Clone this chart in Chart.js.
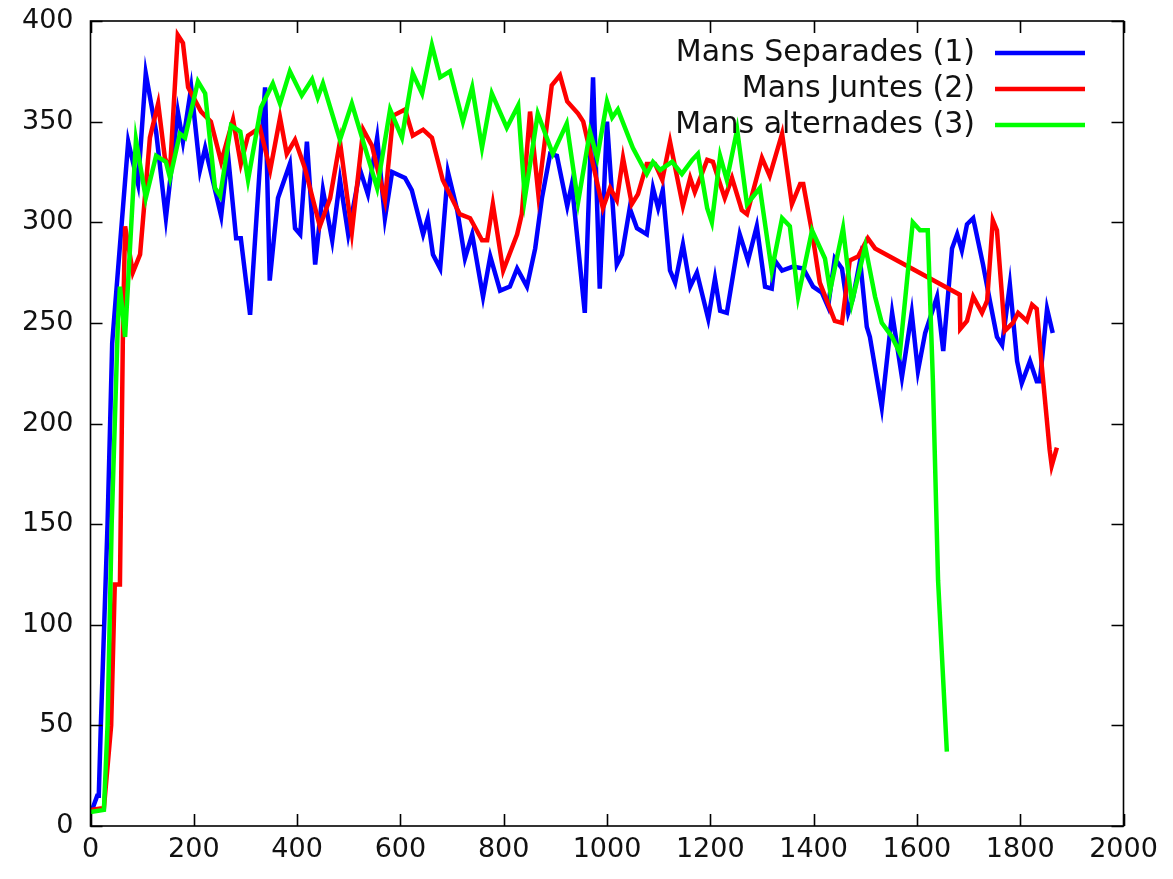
<!DOCTYPE html>
<html>
<head>
<meta charset="utf-8">
<script src="https://cdn.jsdelivr.net/npm/chart.js@4.4.1/dist/chart.umd.min.js"></script>
<style>
html, body { margin: 0; padding: 0; background: #fff; }
#wrap { width: 1173px; height: 879px; position: relative; }
</style>
</head>
<body>
<div id="wrap"><canvas id="myChart"></canvas></div>
<script>
const seriesNames = ['Mans Separades (1)', 'Mans Juntes (2)', 'Mans alternades (3)'];
const seriesColors = ['#0000ff', '#ff0000', '#00ff00'];
const xTicks = [0, 200, 400, 600, 800, 1000, 1200, 1400, 1600, 1800, 2000];
const yTicks = [0, 50, 100, 150, 200, 250, 300, 350, 400];

// Mans Separades (1)
const separadesT = [3, 13, 16, 20, 33, 42, 73, 92, 107, 127, 146, 169, 179, 195, 212, 222, 253, 266, 282, 291,
  309, 338, 347, 363, 386, 396, 406, 419, 435, 450, 468, 483, 499, 522, 537, 555, 570, 584, 609, 622,
  644, 653, 663, 677, 692, 710, 725, 739, 760, 774, 793, 812, 826, 845, 861, 874, 890, 903, 923, 932,
  957, 973, 986, 1000, 1019, 1029, 1044, 1058, 1077, 1089, 1099, 1108, 1122, 1132, 1147, 1161, 1174, 1196, 1209, 1219,
  1232, 1257, 1273, 1290, 1306, 1319, 1325, 1339, 1360, 1380, 1399, 1416, 1428, 1441, 1455, 1467, 1476, 1490, 1503, 1509,
  1532, 1552, 1571, 1590, 1602, 1616, 1639, 1651, 1668, 1678, 1687, 1697, 1709, 1728, 1742, 1755, 1765, 1780, 1794, 1803,
  1819, 1832, 1838, 1852, 1863];
const separadesV = [8, 15, 15, 50, 150, 240, 340, 319, 374, 345, 302, 355, 340, 367, 326, 337, 303, 334, 292, 292,
  254, 367, 271, 312, 329, 297, 294, 340, 279, 316, 291, 321, 294, 326, 314, 342, 302, 325, 322, 316,
  294, 302, 284, 277, 325, 306, 282, 294, 263, 283, 266, 268, 277, 268, 287, 312, 334, 333, 308, 319,
  255, 372, 267, 350, 279, 284, 307, 297, 294, 317, 307, 316, 276, 270, 289, 268, 275, 252, 272, 256,
  255, 294, 281, 298, 268, 267, 281, 276, 278, 277, 268, 265, 258, 282, 277, 255, 262, 281, 248, 243,
  208, 255, 223, 255, 226, 245, 263, 236, 287, 294, 286, 299, 302, 279, 260, 243, 239, 269, 231, 220,
  231, 221, 221, 257, 245];

// Mans Juntes (2)
const juntesT = [1, 26, 40, 47, 57, 63, 67, 82, 96, 115, 131, 144, 154, 169, 179, 189, 214, 233, 253, 276,
  291, 305, 328, 348, 367, 380, 396, 415, 444, 464, 483, 506, 528, 545, 570, 586, 609, 624, 644, 661,
  682, 715, 735, 758, 768, 779, 799, 826, 835, 851, 867, 893, 909, 923, 944, 954, 971, 992, 1006, 1019,
  1031, 1048, 1060, 1077, 1093, 1107, 1122, 1147, 1161, 1170, 1194, 1205, 1228, 1242, 1261, 1271, 1300, 1315, 1339, 1358,
  1374, 1380, 1397, 1412, 1441, 1455, 1470, 1486, 1505, 1519, 1683, 1684, 1697, 1709, 1726, 1736, 1747, 1755, 1770, 1786,
  1796, 1813, 1823, 1832, 1842, 1857, 1861, 1871];
const juntesV = [8, 9, 50, 120, 120, 250, 298, 275, 284, 342, 359, 332, 326, 393, 389, 367, 355, 350, 330, 351,
  329, 343, 347, 326, 352, 334, 341, 327, 298, 312, 340, 295, 346, 338, 311, 353, 356, 343, 346, 342,
  321, 304, 302, 291, 291, 309, 276, 294, 304, 355, 314, 368, 373, 360, 354, 350, 331, 307, 317, 311,
  332, 309, 314, 329, 329, 321, 340, 308, 322, 315, 331, 330, 312, 322, 306, 304, 332, 323, 344, 309,
  319, 319, 295, 270, 251, 250, 281, 283, 292, 287, 264, 247, 251, 263, 255, 261, 301, 296, 246, 250,
  255, 251, 259, 257, 228, 187, 179, 188];

// Mans alternades (3)
const alternadesT = [0, 26, 33, 41, 53, 57, 67, 88, 107, 127, 146, 154, 173, 183, 208, 222, 241, 251, 272, 290,
  305, 330, 353, 367, 386, 409, 429, 440, 450, 483, 506, 555, 580, 603, 624, 642, 661, 677, 696, 721,
  739, 758, 777, 806, 828, 841, 866, 895, 922, 944, 967, 981, 1000, 1010, 1021, 1050, 1077, 1089, 1103, 1126,
  1145, 1165, 1176, 1194, 1203, 1219, 1232, 1252, 1271, 1296, 1319, 1339, 1354, 1370, 1397, 1422, 1432, 1457, 1474, 1500,
  1519, 1532, 1552, 1567, 1592, 1606, 1621, 1631, 1641, 1658];
const alternadesV = [7, 8, 50, 150, 250, 268, 243, 341, 312, 333, 330, 322, 344, 342, 370, 364, 317, 313, 348, 345,
  321, 357, 369, 359, 375, 363, 371, 362, 369, 341, 359, 317, 356, 342, 374, 364, 388, 372, 375, 350,
  367, 337, 364, 347, 358, 312, 354, 334, 349, 310, 345, 332, 360, 352, 356, 337, 324, 330, 326, 330,
  324, 331, 334, 307, 300, 333, 321, 346, 309, 317, 276, 302, 298, 263, 296, 282, 266, 297, 260, 288,
  263, 250, 243, 235, 300, 296, 296, 221, 122, 37];

const FONT = 'DejaVu Sans';
const TEXT = '#111';

function toPoints(ts, vs) {
    return ts.map((t, i) => ({ x: t, y: vs[i] }));
}

// gnuplot style frame with inward ticks on all four sides
const framePlugin = {
    id: 'frame',
    afterDatasetsDraw(chart) {
        const { ctx, chartArea: a, scales } = chart;
        ctx.save();
        ctx.strokeStyle = '#000';
        ctx.lineWidth = 1.6;
        ctx.strokeRect(a.left, a.top, a.right - a.left, a.bottom - a.top);
        const len = 12;
        ctx.beginPath();
        xTicks.forEach(v => {
            const px = Math.round(scales.x.getPixelForValue(v)) + 0.5;
            ctx.moveTo(px, a.bottom); ctx.lineTo(px, a.bottom - len);
            ctx.moveTo(px, a.top); ctx.lineTo(px, a.top + len);
        });
        yTicks.forEach(v => {
            const py = Math.round(scales.y.getPixelForValue(v)) + 0.5;
            ctx.moveTo(a.left, py); ctx.lineTo(a.left + len, py);
            ctx.moveTo(a.right, py); ctx.lineTo(a.right - len, py);
        });
        ctx.stroke();
        ctx.restore();
    }
};

// legend: right aligned text with the line sample on its right
const keyPlugin = {
    id: 'key',
    afterDraw(chart) {
        const { ctx } = chart;
        ctx.save();
        ctx.font = '30px "' + FONT + '"';
        ctx.textAlign = 'right';
        ctx.textBaseline = 'middle';
        chart.data.datasets.forEach((ds, i) => {
            const y = 53 + i * 36;
            ctx.fillStyle = TEXT;
            ctx.fillText(ds.label, 975, y);
            ctx.strokeStyle = ds.borderColor;
            ctx.lineWidth = 4.5;
            ctx.beginPath();
            ctx.moveTo(995, y); ctx.lineTo(1085, y);
            ctx.stroke();
        });
        ctx.restore();
    }
};

const lineSets = [
    toPoints(separadesT, separadesV),
    toPoints(juntesT, juntesV),
    toPoints(alternadesT, alternadesV)
];

const chartSettings = {
    type: 'line',
    data: {
        datasets: lineSets.map((pts, i) => ({
            label: seriesNames[i],
            data: pts,
            borderColor: seriesColors[i],
            backgroundColor: seriesColors[i],
            borderWidth: 4.5,
            pointRadius: 0,
            tension: 0,
            fill: false,
            order: 3 - i
        }))
    },
    options: {
        responsive: false,
        animation: false,
        events: [],
        layout: { padding: { left: 0, right: 49.5, top: 21, bottom: 0 } },
        plugins: { legend: { display: false }, tooltip: { enabled: false } },
        scales: {
            x: {
                type: 'linear',
                min: 0, max: 2000,
                afterBuildTicks: s => { s.ticks = xTicks.map(v => ({ value: v })); },
                afterFit: s => { s.height = 53; s.paddingLeft = 0; s.paddingRight = 0; },
                grid: { display: false, drawTicks: false },
                border: { display: false },
                ticks: { color: TEXT, font: { family: FONT, size: 27 }, padding: 8, maxRotation: 0, callback: v => String(v) }
            },
            y: {
                min: 0, max: 400,
                afterBuildTicks: s => { s.ticks = yTicks.map(v => ({ value: v })); },
                afterFit: s => { s.width = 90.5; s.paddingTop = 0; s.paddingBottom = 0; },
                grid: { display: false, drawTicks: false },
                border: { display: false },
                ticks: { color: TEXT, font: { family: FONT, size: 27 }, padding: 17, callback: v => String(v) }
            }
        }
    },
    plugins: [framePlugin, keyPlugin]
};

window.onload = function () {
    const canvas = document.getElementById('myChart');
    canvas.width = 1173;
    canvas.height = 879;
    new Chart(canvas.getContext('2d'), chartSettings);
};
</script>
</body>
</html>
